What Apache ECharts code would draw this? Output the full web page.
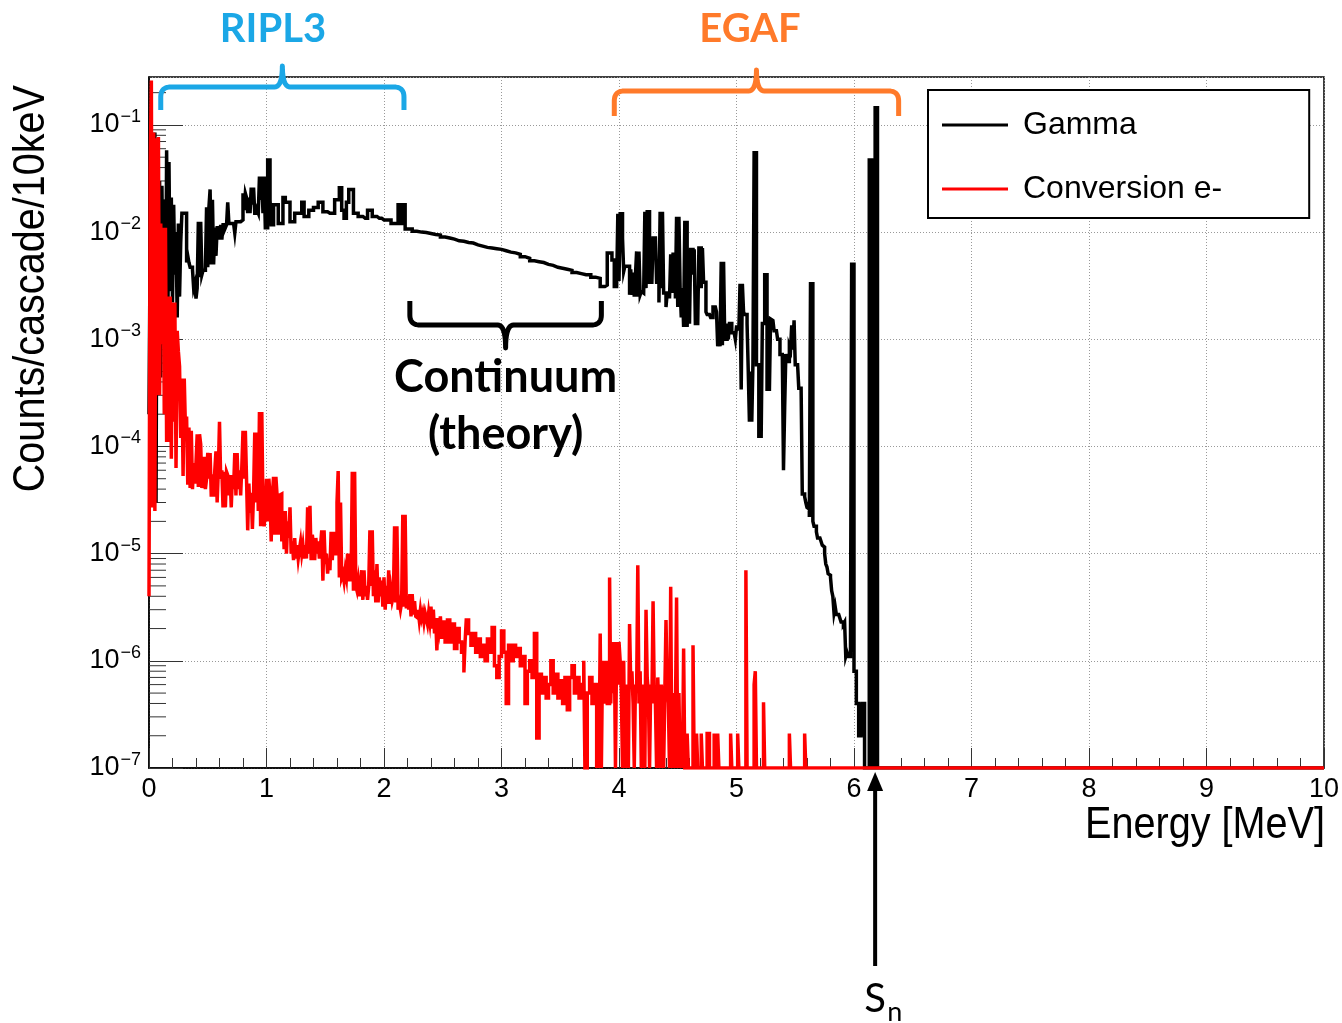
<!DOCTYPE html>
<html>
<head>
<meta charset="utf-8">
<script src="https://cdn.jsdelivr.net/npm/echarts@6/dist/echarts.min.js"></script>
<style>
  html, body { margin: 0; padding: 0; background: #fff; }
  #chart { width: 1342px; height: 1023px; }
</style>
</head>
<body>
<div id="chart"></div>
<script>
// Simulated capture-cascade spectra, counts per cascade per 10 keV bin.
// Each entry is [bin low edge (MeV), content]; a bin runs to the next edge.

// Gamma rays, discrete low-lying levels (RIPL3 part)
const gammaRipl = [
  [0.00,2e-4],[0.01,8.9e-3],[0.02,1e-4],[0.03,5e-3],[0.04,8e-5],[0.05,0.085],[0.06,3e-5],[0.07,0.06],[0.08,4e-4],[0.09,0.03],
  [0.10,4.4e-4],[0.11,0.027],[0.12,2e-3],[0.13,0.02],[0.14,6e-4],[0.15,0.058],[0.16,1.2e-3],[0.17,0.045],[0.18,2.8e-3],[0.19,0.021],
  [0.20,2.2e-3],[0.21,0.018],[0.22,4e-3],[0.23,0.01],[0.24,1.6e-3],[0.25,0.012],[0.26,2.5e-3],[0.27,8e-3],[0.28,0.015],[0.29,0.015],
  [0.30,0.015],[0.31,0.015],[0.32,5.2e-3],[0.33,6e-3],[0.34,5.2e-3],[0.35,4.7e-3],[0.36,4.7e-3],[0.37,4.5e-3],[0.38,3e-3],[0.39,3.3e-3],
  [0.40,2.4e-3],[0.41,3e-3],[0.42,0.0125],[0.43,3.8e-3],[0.44,0.0125],[0.45,4e-3],[0.46,4.4e-3],[0.47,4.4e-3],[0.48,4.6e-3],[0.49,0.017],
  [0.50,4.7e-3],[0.51,0.017],[0.52,0.025],[0.53,5e-3],[0.54,0.02],[0.55,5e-3],[0.56,0.011],[0.57,6e-3],[0.58,0.011],[0.59,0.011],
  [0.60,8.5e-3],[0.61,0.0117],[0.62,8.5e-3],[0.63,0.0117],[0.64,0.0117],[0.65,0.011],[0.66,0.0117],[0.67,0.019],[0.68,0.012],[0.69,0.012],
  [0.70,0.012],[0.71,0.012],[0.72,0.0125],[0.73,9.8e-3],[0.74,0.0125],[0.75,0.0125],[0.76,0.0125],[0.77,0.0125],[0.78,0.013],[0.79,0.013],
  [0.80,0.023],[0.81,0.016],[0.82,0.023],[0.83,0.021],[0.84,0.015],[0.85,0.021],[0.86,0.015],[0.87,0.026],[0.88,0.018],[0.89,0.026],
  [0.90,0.015],[0.91,0.015],[0.92,0.016],[0.93,0.015],[0.94,0.033],[0.95,0.02],[0.96,0.033],[0.97,0.015],[0.98,0.033],[0.99,0.011],
  [1.00,0.011],[1.01,0.047],[1.02,0.047],[1.03,0.02],
  [1.04,0.0117],[1.06,0.018],[1.08,0.018],[1.10,0.012],[1.12,0.012],[1.14,0.021],[1.16,0.019],[1.18,0.019],
  [1.20,0.0125],[1.22,0.0125],[1.24,0.015],[1.26,0.015],[1.28,0.015],[1.30,0.019],[1.32,0.014],[1.34,0.014],[1.36,0.016],[1.38,0.016],
  [1.40,0.017],[1.42,0.017],[1.44,0.019],[1.46,0.019],[1.48,0.0155],[1.50,0.0155],[1.52,0.015],[1.54,0.015],[1.56,0.015],[1.58,0.02],
  [1.60,0.02],[1.62,0.026],[1.64,0.016],[1.66,0.0135],[1.68,0.019],[1.70,0.025],[1.72,0.025],[1.74,0.015],[1.76,0.015],[1.78,0.014],
  [1.80,0.014],[1.82,0.0135],[1.84,0.0135],[1.86,0.016],[1.88,0.016],[1.90,0.014],[1.92,0.014],[1.94,0.0135],[1.96,0.0135],[1.98,0.013],
  [2.00,0.013],[2.02,0.013],[2.04,0.013],[2.06,0.012],[2.08,0.012],[2.10,0.012],[2.12,0.018],[2.14,0.012],[2.16,0.018],[2.18,0.0107]
];

// Gamma rays, statistical continuum
const gammaContinuum = [
  [2.20,0.0107],[2.24,0.0102],[2.28,0.0100],[2.32,0.0099],[2.36,0.0097],[2.40,0.0095],[2.44,0.0094],[2.48,0.0090],
  [2.52,0.0088],[2.56,0.0086],[2.60,0.0083],[2.64,0.0082],[2.68,0.0080],[2.72,0.0079],[2.76,0.0076],[2.80,0.0074],
  [2.84,0.0072],[2.88,0.0071],[2.92,0.0070],[2.96,0.0069],[3.00,0.0067],[3.04,0.0065],[3.08,0.0064],[3.12,0.0062],
  [3.16,0.0059],[3.20,0.0057],[3.24,0.0054],[3.28,0.0053],[3.32,0.0052],[3.36,0.0050],[3.40,0.0049],[3.44,0.0047],
  [3.48,0.0046],[3.52,0.0045],[3.56,0.0044],[3.60,0.0042],[3.64,0.0041],[3.68,0.0040],[3.72,0.0040],[3.76,0.0038],
  [3.80,0.0037],[3.84,0.0031],[3.88,0.0032],[3.90,0.0064],[3.94,0.0055],[3.96,0.0031]
];

// Gamma rays, primary transitions (EGAF part) and capture-state lines
const gammaEgaf = [
  [3.98,3.1e-3],[3.99,0.0148],[4.00,3.5e-3],[4.01,0.0148],[4.02,0.0148],[4.03,8.8e-3],[4.04,4.3e-3],[4.05,4.8e-3],[4.06,4.8e-3],[4.07,4.8e-3],
  [4.08,4.8e-3],[4.09,2.6e-3],[4.10,4.5e-3],[4.11,2.6e-3],[4.12,4.2e-3],[4.13,2.5e-3],[4.14,4e-3],[4.15,6.6e-3],[4.16,2.5e-3],[4.17,6.6e-3],
  [4.18,2.6e-3],[4.19,2.8e-3],[4.20,2.7e-3],[4.21,2.7e-3],[4.22,0.0155],[4.23,3e-3],[4.24,0.0155],[4.25,0.0155],[4.26,3.4e-3],[4.27,3.4e-3],
  [4.28,3.4e-3],[4.29,8.8e-3],[4.30,8.8e-3],[4.31,8.8e-3],[4.32,3.4e-3],[4.33,3.4e-3],[4.34,2.2e-3],[4.35,0.0155],[4.36,3e-3],[4.37,0.0155],
  [4.38,2.7e-3],[4.39,2.7e-3],[4.40,2e-3],[4.41,2.7e-3],[4.42,2.7e-3],[4.43,2.4e-3],[4.44,6.2e-3],[4.45,2.7e-3],[4.46,6.2e-3],[4.47,6.2e-3],
  [4.48,2.4e-3],[4.49,0.0139],[4.50,2e-3],[4.51,0.0139],[4.52,3e-3],[4.53,1.6e-3],[4.54,3e-3],[4.55,1.3e-3],[4.56,0.0123],[4.57,0.0123],
  [4.58,1.3e-3],[4.59,4e-3],[4.60,1.4e-3],[4.61,6.9e-3],[4.62,6.9e-3],[4.63,4e-3],[4.64,6.9e-3],[4.65,1.4e-3],[4.66,1.4e-3],[4.67,1.4e-3],
  [4.68,7.1e-3],[4.69,7.1e-3],[4.70,3e-3],[4.71,7.1e-3],[4.72,3.4e-3],[4.73,3.4e-3],[4.74,1.8e-3],[4.75,1.7e-3],[4.76,1.7e-3],[4.77,1.7e-3],
  [4.78,1.6e-3],[4.79,1.6e-3],[4.80,2e-3],[4.81,2e-3],[4.82,2e-3],[4.83,1.8e-3],[4.84,8.6e-4],[4.85,1.2e-3],[4.86,8.6e-4],[4.87,5.3e-3],
  [4.88,8.8e-4],[4.89,5.3e-3],[4.90,1e-3],[4.91,1e-3],[4.92,1.4e-3],[4.93,1e-3],[4.94,1.4e-3],[4.95,1.4e-3],[4.96,1.15e-3],[4.97,1.15e-3],
  [4.98,1.15e-3],[4.99,1e-3],[5.00,1.3e-3],[5.01,1.3e-3],[5.02,1.2e-3],[5.03,3.3e-3],[5.04,3.4e-4],[5.05,3.3e-3],[5.06,1.8e-3],[5.07,1.7e-3],
  [5.08,1.7e-3],[5.09,1.4e-3],[5.10,5.1e-4],[5.11,1.7e-4],[5.12,5e-4],[5.13,1.7e-4],[5.14,6e-4],[5.15,0.055],[5.16,0.055],[5.17,5.8e-4],
  [5.18,5.8e-4],[5.19,1.2e-4],[5.20,5e-4],[5.21,1.2e-4],[5.22,1.4e-3],[5.23,1.4e-3],[5.24,4e-3],[5.25,4e-3],[5.26,3.3e-4],[5.27,1.55e-3],
  [5.28,3.3e-4],[5.29,1.55e-3],[5.30,1.5e-3],[5.31,1.55e-3],[5.32,1.2e-3],[5.33,1.2e-3],[5.34,1.2e-3],[5.35,1e-3],[5.36,1e-3],[5.37,7.2e-4],
  [5.38,7.2e-4],[5.39,7.2e-4],[5.40,6e-5],[5.41,2.3e-4],[5.42,7.3e-4],[5.43,6.2e-4],[5.44,6.2e-4],[5.45,8.6e-4],[5.46,8e-4],[5.47,1.35e-3],
  [5.48,8e-4],[5.49,1.5e-3],[5.50,5.8e-4],[5.51,5.8e-4],[5.52,5.8e-4],[5.53,3.5e-4],[5.54,3.5e-4],[5.55,3.5e-4],[5.56,3.6e-5],[5.57,3.6e-5],
  [5.58,3.4e-5],[5.59,3e-5],[5.60,2.7e-5],[5.61,2.6e-5],[5.62,2.2e-5],[5.63,3.3e-3],[5.64,3.3e-3],[5.65,2e-5],[5.66,1.8e-5],[5.67,1.8e-5],
  [5.68,1.6e-5],[5.69,1.4e-5],[5.70,1.4e-5],[5.71,1.35e-5],[5.72,1.3e-5],[5.73,1.2e-5],[5.74,1.15e-5],[5.75,1e-5],[5.76,8e-6],[5.77,7.5e-6],
  [5.78,6.5e-6],[5.79,6.3e-6],[5.80,6e-6],[5.81,4.5e-6],[5.82,4e-6],[5.83,2.8e-6],[5.84,3.2e-6],[5.85,2.7e-6],[5.86,2.7e-6],[5.87,2.7e-6],
  [5.88,2.5e-6],[5.89,2.3e-6],[5.90,2.3e-6],[5.91,2.2e-6],[5.92,2.3e-6],[5.93,1.1e-6],[5.94,1.2e-6],[5.95,1.1e-6],[5.96,1.1e-6],[5.97,1.1e-6],
  [5.98,5e-3],[5.99,5e-3],[6.00,8e-7],[6.01,8e-7],[6.02,4e-7],[6.03,4e-7],[6.04,2e-7],[6.05,2e-7],[6.06,2e-7],[6.07,4e-7],
  [6.08,4e-7],[6.09,0],[6.13,0.047],[6.14,0.047],[6.15,0],[6.18,0.145],[6.19,0.145],[6.20,0]
];

// Conversion electrons, low energies
const electronLow = [
  [0.00,4e-6],[0.01,0.036],[0.02,0.26],[0.03,2.7e-5],[0.04,0.085],[0.05,2.5e-5],[0.06,0.075],[0.07,3e-4],[0.08,0.077],[0.09,3e-4],
  [0.10,0.012],[0.11,9e-4],[0.12,0.011],[0.13,2e-4],[0.14,0.011],[0.15,1.1e-4],[0.16,2.5e-3],[0.17,1.1e-4],[0.18,2.5e-3],[0.19,7.7e-5],
  [0.20,2.2e-3],[0.21,1.7e-4],[0.22,2.2e-3],[0.23,6.3e-5],[0.24,1.2e-3],[0.25,7.7e-4],[0.26,5.6e-4],[0.27,1.2e-4],[0.28,4.3e-4],[0.29,5.3e-5],
  [0.30,4.3e-4],[0.31,1.5e-4],[0.32,1.9e-4],[0.33,4.4e-5],[0.34,1.5e-4],[0.35,4.1e-5],[0.36,1.4e-4],[0.37,4e-5],[0.38,7e-5],[0.39,4.5e-5],
  [0.40,7e-5],[0.41,1.3e-4],[0.42,4.2e-5],[0.43,1.3e-4],[0.44,1.05e-4],[0.45,4.1e-5],[0.46,5e-5],[0.47,8e-5],[0.48,4e-5],[0.49,5e-5],
  [0.50,8.7e-5],[0.51,5e-5],[0.52,8.7e-5],[0.53,3.4e-5],[0.54,5.5e-5],[0.55,3.4e-5],[0.56,6e-5],[0.57,9e-5],[0.58,3e-5],[0.59,6e-5],
  [0.60,1.7e-4],[0.61,5e-5],[0.62,6e-5],[0.63,2.7e-5],[0.64,5.8e-5],[0.65,2.7e-5],[0.66,5.8e-5],[0.67,5.4e-5],[0.68,3.5e-5],[0.69,5.4e-5],
  [0.70,2.7e-5],[0.71,5.4e-5],[0.72,4e-5],[0.73,8.7e-5],[0.74,3.5e-5],[0.75,8.7e-5],[0.76,4e-5],[0.77,6e-5],[0.78,3.5e-5],[0.79,6.5e-5],
  [0.80,1.4e-4],[0.81,5e-5],[0.82,1.4e-4],[0.83,5e-5],[0.84,1.65e-5],[0.85,4.5e-5],[0.86,2.4e-5],[0.87,3.7e-5],[0.88,1.7e-5],[0.89,3.7e-5],
  [0.90,1.35e-4],[0.91,3e-5],[0.92,1.35e-4],[0.93,2.5e-5],[0.94,2.1e-4],[0.95,1.8e-5],[0.96,2.1e-4],[0.97,2.6e-5],[0.98,1.8e-5],[0.99,2.6e-5],
  [1.00,5e-5],[1.01,2e-5],[1.02,5e-5],[1.03,3.5e-5],[1.04,1.3e-5],[1.05,3.5e-5],[1.06,5.2e-5],[1.07,1.5e-5],[1.08,5.2e-5],[1.09,3.5e-5],
  [1.10,1.5e-5],[1.11,3.5e-5],[1.12,3.6e-5],[1.13,1.3e-5],[1.14,2.5e-5],[1.15,1.1e-5],[1.16,2.5e-5],[1.17,1e-5],[1.18,2e-5],[1.19,1.4e-5],
  [1.20,2.7e-5],[1.21,1e-5],[1.22,1.3e-5],[1.23,8.7e-6],[1.24,1.4e-5],[1.25,9e-6],[1.26,1.2e-5],[1.27,9e-6],[1.28,1.1e-5],[1.29,1.3e-5],
  [1.30,1e-5],[1.31,1.2e-5],[1.32,9e-6],[1.33,1.2e-5],[1.34,9e-6],[1.35,2.7e-5],[1.36,1e-5],[1.37,2.8e-5],[1.38,8.7e-6],[1.39,1.5e-5],
  [1.40,1.2e-5],[1.41,8.7e-6],[1.42,1.4e-5],[1.43,1e-5],[1.44,1.3e-5],[1.45,9e-6],[1.46,1.2e-5],[1.47,1.65e-5],[1.48,5.6e-6],[1.49,1.65e-5],
  [1.50,8e-6],[1.51,1e-5],[1.52,6.5e-6],[1.53,9e-6],[1.54,7e-6],[1.55,1.6e-5],[1.56,8.7e-6],[1.57,1.6e-5],[1.58,1e-5],[1.59,1e-5],
  [1.60,3e-5],[1.61,5.9e-5],[1.62,6e-6],[1.63,3e-5],[1.64,6e-6],[1.65,6.5e-6],[1.66,5.5e-6],[1.67,7e-6],[1.68,6e-6],[1.69,1e-5],
  [1.70,5.5e-6],[1.71,1e-5],[1.72,5.5e-6],[1.73,5.8e-5],[1.74,4.5e-6],[1.75,5.8e-5],[1.76,5e-6],[1.77,4.5e-6],[1.78,5.5e-6],[1.79,4e-6],
  [1.80,5e-6],[1.81,7e-6],[1.82,3.7e-6],[1.83,7e-6],[1.84,4e-6],[1.85,5e-6],[1.86,3.7e-6],[1.87,5e-6],[1.88,1.65e-5],[1.89,5e-6],
  [1.90,1.65e-5],[1.91,4e-6],[1.92,7e-6],[1.93,3.5e-6],[1.94,8e-6],[1.95,3.5e-6],[1.96,6e-6],[1.97,4e-6],[1.98,5.6e-6],[1.99,3.2e-6],
  [2.00,6e-6],[2.01,3e-6],[2.02,5e-6],[2.03,3.4e-6],[2.04,7e-6],[2.05,3.4e-6],[2.06,4.5e-6],[2.07,3.6e-6],[2.08,4e-6],[2.09,1.8e-5],
  [2.10,3.5e-6],[2.11,1.8e-5],[2.12,3e-6],[2.13,3.5e-6],[2.14,3e-6],[2.15,3.5e-6],[2.16,2.3e-5],[2.17,3.2e-6],[2.18,2.3e-5],[2.19,3.2e-6],
  [2.20,3.2e-6],[2.21,3e-6],[2.22,4.2e-6],[2.23,2.6e-6],[2.24,4.2e-6],[2.25,2.7e-6],[2.26,3.6e-6],[2.27,2.6e-6],[2.28,2.5e-6],[2.29,3e-6],
  [2.30,2.4e-6],[2.31,3e-6],[2.32,2.5e-6],[2.33,2.8e-6],[2.34,2.3e-6],[2.35,2.8e-6],[2.36,2.5e-6],[2.37,2.2e-6],[2.38,2.8e-6],[2.39,2.3e-6],
  [2.40,3.2e-6],[2.41,2e-6],[2.42,3e-6],[2.43,1.8e-6],[2.44,2.5e-6],[2.45,1.25e-6],[2.46,2.5e-6],[2.47,2e-6],[2.48,2.6e-6],[2.49,1.6e-6]
];

// Conversion electrons, high energies (0 = empty bin)
const electronHigh = [
  [2.50,2.3e-6],[2.52,1.5e-6],[2.54,2.4e-6],[2.56,1.5e-6],[2.58,2.2e-6],[2.60,1.3e-6],[2.62,2.0e-6],[2.64,1.5e-6],[2.66,1.2e-6],[2.68,7.8e-7],
  [2.69,1.5e-6],[2.70,2.4e-6],[2.72,1.8e-6],[2.74,1.4e-6],[2.76,1.8e-6],[2.78,1.2e-6],[2.80,1.6e-6],[2.82,1.1e-6],[2.84,1.4e-6],[2.86,1.0e-6],
  [2.88,1.6e-6],[2.90,1.2e-6],[2.92,2.05e-6],[2.94,9e-7],[2.96,7e-7],[2.98,1.1e-6],[3.00,1.9e-6],[3.02,1.2e-6],[3.04,4e-7],[3.06,1.4e-6],
  [3.08,1.0e-6],[3.10,1.4e-6],[3.12,1.1e-6],[3.14,1.3e-6],[3.16,9e-7],[3.18,1.1e-6],[3.20,4e-7],[3.22,8e-7],[3.24,1.0e-6],[3.26,7e-7],
  [3.28,1.8e-6],[3.30,1.9e-7],[3.32,7.5e-7],[3.34,5e-7],[3.36,7e-7],[3.38,4.5e-7],[3.40,6e-7],[3.42,1.0e-6],[3.44,5e-7],[3.46,7.5e-7],
  [3.48,4.5e-7],[3.50,6.5e-7],[3.52,4e-7],[3.54,7e-7],[3.56,3.5e-7],[3.58,7e-7],[3.60,9e-7],[3.62,5e-7],[3.64,7e-7],[3.66,4.5e-7],
  [3.68,6e-7],[3.70,1.0e-6],[3.71,0],[3.73,5e-7],[3.75,7e-7],[3.77,4e-7],[3.79,6e-7],[3.81,0],[3.82,4e-7],[3.83,0],
  [3.84,1.8e-6],[3.85,0],[3.86,1.0e-6],[3.87,5e-7],[3.88,4e-7],[3.89,1.0e-6],[3.90,4e-7],[3.92,6e-6],[3.93,4e-7],[3.94,1.5e-6],
  [3.95,5e-7],[3.96,1.5e-6],[3.97,0],[3.98,1.5e-6],[3.99,6e-7],[4.00,1.5e-6],[4.01,1e-6],[4.02,5e-7],[4.03,0],[4.04,1e-6],
  [4.05,0],[4.06,6e-7],[4.07,4e-7],[4.08,0],[4.09,2.2e-6],[4.10,6e-7],[4.11,8e-7],[4.12,4e-7],[4.13,0],[4.14,6e-7],
  [4.15,5e-7],[4.16,7.8e-6],[4.17,4e-7],[4.18,8e-7],[4.19,0],[4.20,6e-7],[4.21,4e-7],[4.22,0],[4.23,3e-6],[4.24,7e-7],
  [4.25,5e-7],[4.26,0],[4.27,6e-7],[4.28,4e-7],[4.29,3.6e-6],[4.30,5e-7],[4.31,4e-7],[4.32,0],[4.33,7e-7],[4.34,3e-7],
  [4.35,0],[4.36,6e-7],[4.37,4e-7],[4.38,0],[4.39,5e-7],[4.40,2.4e-6],[4.41,6e-7],[4.42,4e-7],[4.43,0],[4.44,4.9e-6],
  [4.45,0],[4.46,5e-7],[4.47,0],[4.48,3e-7],[4.49,3.9e-6],[4.50,0],[4.51,5e-7],[4.52,0],[4.53,2e-7],[4.54,0],
  [4.55,1.3e-6],[4.56,0],[4.58,2.1e-7],[4.59,0],[4.63,1.4e-6],[4.64,0],[4.66,2.1e-7],[4.67,0],[4.70,2.1e-7],[4.71,0],
  [4.75,2.1e-7],[4.77,0],[4.81,2.1e-7],[4.82,0],[4.84,2.1e-7],[4.85,0],[4.95,2.1e-7],[4.96,0],[5.01,2.1e-7],[5.02,0],
  [5.08,7e-6],[5.09,0],[5.15,6e-7],[5.16,8e-7],[5.17,0],[5.23,4.1e-7],[5.24,0],[5.45,2.1e-7],[5.46,0],[5.58,2.1e-7],[5.59,0]
];

// Axis settings
const energyRange = [0, 10];
const countRange = [1e-7, 0.28];
const logMantissas = [2, 3, 4, 5, 6, 7, 8, 9];

// Annotated energy ranges (MeV)
const riplRange = [0.10, 2.17];
const egafRange = [3.96, 6.38];
const continuumRange = [2.22, 3.85];
const neutronSeparation = 6.18;

const FONT = "'Liberation Sans', Arial, sans-serif";
const BOLD_FONT = "Lato, 'Open Sans', sans-serif";

// Step histogram: empty bins sit on the lower edge of the log axis,
// and the last bin closes at the upper end of the energy axis.
function histogram(parts) {
  const pts = [];
  parts.forEach(p => p.forEach(([e, v]) => pts.push([e, v > 0 ? v : countRange[0]])));
  pts.push([energyRange[1], countRange[0]]);
  return pts;
}

const gammaData = histogram([gammaRipl, gammaContinuum, gammaEgaf]);
const electronData = histogram([electronLow, electronHigh]);

const minorTickValues = [];
for (let d = -7; d <= -1; d++) {
  logMantissas.forEach(m => {
    const v = m * Math.pow(10, d);
    if (v < countRange[1]) minorTickValues.push([0, v]);
  });
}

const chart = echarts.init(document.getElementById('chart'), null, { renderer: 'canvas' });

chart.setOption({
  animation: false,
  backgroundColor: '#fff',
  grid: {
    left: 149, top: 77, width: 1176, height: 691,
    show: true, borderColor: '#000', borderWidth: 1.5, backgroundColor: 'transparent'
  },
  legend: {
    orient: 'vertical', left: 928, top: 90,
    itemWidth: 66, itemHeight: 3, itemGap: 32,
    padding: [19, 87, 13, 14],
    borderColor: '#000', borderWidth: 2, backgroundColor: '#fff',
    textStyle: { fontFamily: FONT, fontSize: 32, color: '#000', padding: [0, 0, 0, 10] },
    data: [{ name: 'Gamma', icon: 'rect' }, { name: 'Conversion e-', icon: 'rect' }]
  },
  xAxis: {
    type: 'value', min: energyRange[0], max: energyRange[1], interval: 1,
    axisLine: { show: true, lineStyle: { color: '#000', width: 1.5 } },
    axisTick: { show: true, inside: true, length: 20, lineStyle: { color: '#333', width: 1 } },
    minorTick: { show: true, splitNumber: 5, length: 10, lineStyle: { color: '#333', width: 1 } },
    axisLabel: { fontFamily: FONT, fontSize: 27, color: '#000', margin: 8 },
    splitLine: { show: true, lineStyle: { color: '#999', type: [1, 2], width: 1 } }
  },
  yAxis: {
    type: 'log', logBase: 10, min: countRange[0], max: countRange[1],
    axisLine: { show: true, lineStyle: { color: '#000', width: 1.5 } },
    axisTick: { show: true, inside: true, length: 34, lineStyle: { color: '#333', width: 1 } },
    axisLabel: {
      showMaxLabel: false, margin: 8,
      formatter: v => {
        const e = Math.log10(v), r = Math.round(e);
        if (Math.abs(e - r) > 1e-6) return '';
        return '{b|10}{s|\u2212' + (-r) + '}';
      },
      rich: {
        b: { fontFamily: FONT, fontSize: 27, color: '#000' },
        s: { fontFamily: FONT, fontSize: 18, color: '#000', padding: [0, 0, 16, 1] }
      }
    },
    splitLine: { show: true, lineStyle: { color: '#999', type: [1, 2], width: 1 } }
  },
  series: [
    {
      name: 'Gamma', type: 'line', step: 'end', data: gammaData,
      symbol: 'none', showSymbol: false, clip: true, z: 3,
      lineStyle: { color: '#000', width: 3.5, join: 'miter' },
      itemStyle: { color: '#000' }
    },
    {
      name: 'Conversion e-', type: 'line', step: 'end', data: electronData,
      symbol: 'none', showSymbol: false, clip: true, z: 4,
      lineStyle: { color: '#f00', width: 3.5, join: 'miter' },
      itemStyle: { color: '#f00' }
    },
    {
      type: 'custom', silent: true, z: 2, data: minorTickValues,
      renderItem: (params, api) => {
        const p = api.coord([0, api.value(1)]);
        return { type: 'line', shape: { x1: p[0], y1: p[1], x2: p[0] + 17, y2: p[1] },
                 style: { stroke: '#333', lineWidth: 1 } };
      }
    }
  ]
});

// Annotations positioned from the energy scale
const px = e => chart.convertToPixel({ xAxisIndex: 0 }, e);

// Quadratic curve sampled into polyline points
function quad(p0, c, p1, out) {
  for (let i = 1; i <= 10; i++) {
    const t = i / 10, u = 1 - t;
    out.push([u * u * p0[0] + 2 * u * t * c[0] + t * t * p1[0],
              u * u * p0[1] + 2 * u * t * c[1] + t * t * p1[1]]);
  }
}

// Curly brace along y0; dir = 1 puts the arms below and the tip above
function bracePoints(x1, x2, y0, dir, arm, tip) {
  const xm = (x1 + x2) / 2, r = 10, r2 = 8;
  const pts = [[x1, y0 + dir * arm], [x1, y0 + dir * r]];
  quad([x1, y0 + dir * r], [x1, y0], [x1 + r, y0], pts);
  pts.push([xm - r2, y0]);
  quad([xm - r2, y0], [xm, y0], [xm, y0 - dir * tip], pts);
  quad([xm, y0 - dir * tip], [xm, y0], [xm + r2, y0], pts);
  pts.push([x2 - r, y0]);
  quad([x2 - r, y0], [x2, y0], [x2, y0 + dir * r], pts);
  pts.push([x2, y0 + dir * arm]);
  return pts;
}

const blue = '#1ba7e6', orange = '#ff7a2a';
const sx = px(neutronSeparation);
const cMid = (px(continuumRange[0]) + px(continuumRange[1])) / 2;

chart.setOption({
  graphic: [
    { type: 'polyline', shape: { points: bracePoints(px(riplRange[0]), px(riplRange[1]), 87, 1, 23, 21) },
      style: { fill: null, stroke: blue, lineWidth: 5, lineJoin: 'round' }, z: 10 },
    { type: 'polyline', shape: { points: bracePoints(px(egafRange[0]), px(egafRange[1]), 91, 1, 25, 21) },
      style: { fill: null, stroke: orange, lineWidth: 5, lineJoin: 'round' }, z: 10 },
    { type: 'polyline', shape: { points: bracePoints(px(continuumRange[0]), px(continuumRange[1]), 325, -1, 24, 23) },
      style: { fill: null, stroke: '#000', lineWidth: 5, lineJoin: 'round' }, z: 10 },
    { type: 'text', x: 273, y: 29, z: 10,
      style: { text: 'RIPL3', font: `bold 40px ${BOLD_FONT}`, fill: blue, align: 'center', verticalAlign: 'middle' } },
    { type: 'text', x: 750, y: 29, z: 10,
      style: { text: 'EGAF', font: `bold 40px ${BOLD_FONT}`, fill: orange, align: 'center', verticalAlign: 'middle' } },
    { type: 'text', x: cMid, y: 377, z: 10,
      style: { text: 'Continuum', font: `bold 45px ${BOLD_FONT}`, fill: '#000', align: 'center', verticalAlign: 'middle' } },
    { type: 'text', x: cMid, y: 434, z: 10,
      style: { text: '(theory)', font: `bold 45px ${BOLD_FONT}`, fill: '#000', align: 'center', verticalAlign: 'middle' } },
    // neutron separation energy marker
    { type: 'line', shape: { x1: sx, y1: 966, x2: sx, y2: 788 }, style: { stroke: '#000', lineWidth: 4 }, z: 10 },
    { type: 'polygon', shape: { points: [[sx, 772], [sx - 8, 791], [sx + 8, 791]] }, style: { fill: '#000' }, z: 10 },
    { type: 'text', x: sx - 11, y: 999, z: 10,
      style: { text: 'S', font: `40px ${BOLD_FONT}`, fill: '#000', align: 'left', verticalAlign: 'middle' } },
    { type: 'text', x: sx + 12, y: 1012, z: 10,
      style: { text: 'n', font: `27px ${BOLD_FONT}`, fill: '#000', align: 'left', verticalAlign: 'middle' } },
    // axis titles
    { type: 'text', x: 32, y: 85, rotation: Math.PI / 2, scaleX: 0.9, z: 10,
      style: { text: 'Counts/cascade/10keV', font: `44px ${FONT}`, fill: '#000', align: 'right', verticalAlign: 'middle' } },
    { type: 'text', x: 1325, y: 826, scaleX: 0.9, z: 10,
      style: { text: 'Energy [MeV]', font: `44px ${FONT}`, fill: '#000', align: 'right', verticalAlign: 'middle' } }
  ]
});
</script>
</body>
</html>
